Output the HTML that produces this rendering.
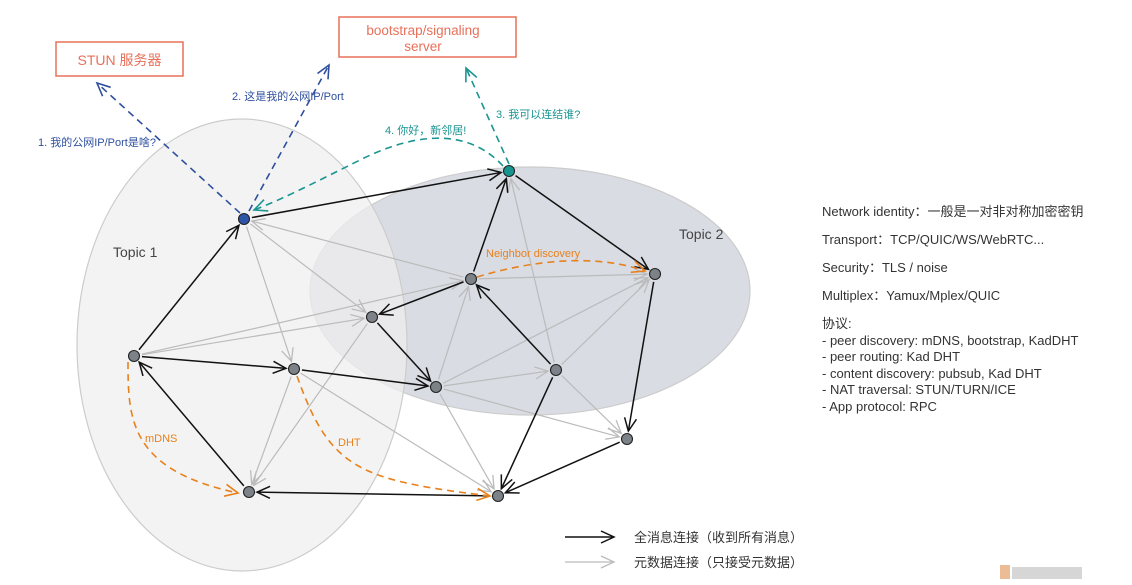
<!DOCTYPE html>
<html><head><meta charset="utf-8"><style>
body{margin:0;background:#fff;width:1132px;height:585px;overflow:hidden;font-family:"Liberation Sans","Noto Sans CJK SC",sans-serif}
svg{position:absolute;left:0;top:0}
.r{position:absolute;left:822px;color:#333;font-size:13px;line-height:16.5px}
</style></head><body>
<svg id="s" width="1132" height="585" viewBox="0 0 1132 585" font-family="Liberation Sans, Noto Sans CJK SC, sans-serif">
<defs>
<marker id="mk" markerWidth="16" markerHeight="14" refX="14" refY="7" orient="auto" markerUnits="userSpaceOnUse"><path d="M1 1 L14 7 L1 13" fill="none" stroke="#111" stroke-width="1.5"/></marker>
<marker id="mg" markerWidth="16" markerHeight="14" refX="14" refY="7" orient="auto" markerUnits="userSpaceOnUse"><path d="M1 1 L14 7 L1 13" fill="none" stroke="#bbb" stroke-width="1.3"/></marker>
<marker id="mo" markerWidth="16" markerHeight="14" refX="14" refY="7" orient="auto" markerUnits="userSpaceOnUse"><path d="M1 1 L14 7 L1 13" fill="none" stroke="#e8811c" stroke-width="1.6"/></marker>
<marker id="mb" markerWidth="16" markerHeight="14" refX="14" refY="7" orient="auto" markerUnits="userSpaceOnUse"><path d="M1 1 L14 7 L1 13" fill="none" stroke="#2e4f9e" stroke-width="1.6"/></marker>
<marker id="mt" markerWidth="16" markerHeight="14" refX="14" refY="7" orient="auto" markerUnits="userSpaceOnUse"><path d="M1 1 L14 7 L1 13" fill="none" stroke="#1a9592" stroke-width="1.6"/></marker>
</defs>
<ellipse cx="530" cy="291" rx="220" ry="124" fill="#d9dce3" stroke="#ccc" stroke-width="1.2"/>
<ellipse cx="242" cy="345" rx="165" ry="226" fill="#efefef" fill-opacity="0.72" stroke="#ccc" stroke-width="1.2"/>
<text x="113" y="257" font-size="14" fill="#444">Topic 1</text>
<text x="679" y="239" font-size="14" fill="#444">Topic 2</text>
<rect x="56" y="42" width="127" height="34" fill="#fff" stroke="#e8705a" stroke-width="1.5"/>
<text x="119.5" y="65" font-size="14" fill="#e8705a" text-anchor="middle">STUN 服务器</text>
<rect x="339" y="17" width="177" height="40" fill="#fff" stroke="#e8705a" stroke-width="1.5"/>
<text x="423" y="35" font-size="13.5" fill="#e8705a" text-anchor="middle">bootstrap/signaling</text>
<text x="423" y="51" font-size="13.5" fill="#e8705a" text-anchor="middle">server</text>
<g id="edges"></g>
<g fill="none" stroke-width="1.6" stroke-dasharray="7,5">
<line x1="240" y1="213" x2="97" y2="83" stroke="#2e4f9e" marker-end="url(#mb)"/>
<line x1="249" y1="211" x2="329" y2="65" stroke="#2e4f9e" marker-end="url(#mb)"/>
<line x1="509" y1="164" x2="466" y2="68" stroke="#1a9592" marker-end="url(#mt)"/>
<path d="M503 166 C470 130 420 130 360 160 S280 200 254 210" stroke="#1a9592" marker-end="url(#mt)"/>
<path d="M477 277 C540 258 600 255 645 271" stroke="#e8811c" marker-end="url(#mo)"/>
<path d="M128 362 C128 420 130 470 238 493" stroke="#e8811c" marker-end="url(#mo)"/>
<path d="M297 376 C330 470 360 480 490 496" stroke="#e8811c" marker-end="url(#mo)"/>
</g>
<g font-size="11">
<text x="38" y="146" fill="#2e4f9e">1. 我的公网IP/Port是啥?</text>
<text x="232" y="100" fill="#2e4f9e">2. 这是我的公网IP/Port</text>
<text x="496" y="118" fill="#1a9592">3. 我可以连结谁?</text>
<text x="385" y="134" fill="#1a9592">4. 你好，新邻居!</text>
<text x="486" y="257" fill="#e8811c">Neighbor discovery</text>
<text x="145" y="442" fill="#e8811c">mDNS</text>
<text x="338" y="446" fill="#e8811c">DHT</text>
</g>
<g id="nodes"></g>
<line x1="565" y1="537" x2="614" y2="537" stroke="#111" stroke-width="1.5" marker-end="url(#mk)"/>
<line x1="565" y1="562" x2="614" y2="562" stroke="#bbb" stroke-width="1.3" marker-end="url(#mg)"/>
<text x="634" y="542" font-size="13" fill="#333">全消息连接（收到所有消息）</text>
<text x="634" y="567" font-size="13" fill="#333">元数据连接（只接受元数据）</text>
<g opacity="0.6"><rect x="1000" y="565" width="10" height="14" fill="#e09050"/><rect x="1012" y="567" width="70" height="12" fill="#bbb"/></g>
</svg>
<div class="r" style="top:204px">Network identity：一般是一对非对称加密密钥</div>
<div class="r" style="top:232px">Transport：TCP/QUIC/WS/WebRTC...</div>
<div class="r" style="top:260px">Security：TLS / noise</div>
<div class="r" style="top:288px">Multiplex：Yamux/Mplex/QUIC</div>
<div class="r" style="top:316px">协议:<br>- peer discovery: mDNS, bootstrap, KadDHT<br>- peer routing: Kad DHT<br>- content discovery: pubsub, Kad DHT<br>- NAT traversal: STUN/TURN/ICE<br>- App protocol: RPC</div>
<script>
var N={A:[244,219],T:[509,171],B:[134,356],C:[294,369],D:[372,317],E:[471,279],F:[655,274],G:[436,387],H:[556,370],I:[627,439],J:[249,492],K:[498,496]};
var black=["BA","BC","CG","DG","ED","ET","AT","TF","FI","HE","HK","IK","KJ","JB"];
var gray=["AC","AD","EA","BD","BE","DJ","CJ","CK","GE","GH","GF","GK","GI","HT","HF","HI","EF"];
var ns="http://www.w3.org/2000/svg",eg=document.getElementById("edges"),ng=document.getElementById("nodes");
function ln(e,c,w,m){var a=N[e[0]],b=N[e[1]],dx=b[0]-a[0],dy=b[1]-a[1],d=Math.hypot(dx,dy),ux=dx/d,uy=dy/d;
var l=document.createElementNS(ns,"line");l.setAttribute("x1",a[0]+ux*8);l.setAttribute("y1",a[1]+uy*8);l.setAttribute("x2",b[0]-ux*8);l.setAttribute("y2",b[1]-uy*8);
l.setAttribute("stroke",c);l.setAttribute("stroke-width",w);l.setAttribute("marker-end","url(#"+m+")");eg.appendChild(l);}
gray.forEach(function(e){ln(e,"#bbb",1.2,"mg")});black.forEach(function(e){ln(e,"#111",1.5,"mk")});
for(var k in N){var c=document.createElementNS(ns,"circle");c.setAttribute("cx",N[k][0]);c.setAttribute("cy",N[k][1]);c.setAttribute("r",5.5);
c.setAttribute("fill",k=="A"?"#2e55a8":k=="T"?"#179490":"#7d8289");c.setAttribute("stroke","#222");c.setAttribute("stroke-width",1.1);ng.appendChild(c);}
</script>
</body></html>
